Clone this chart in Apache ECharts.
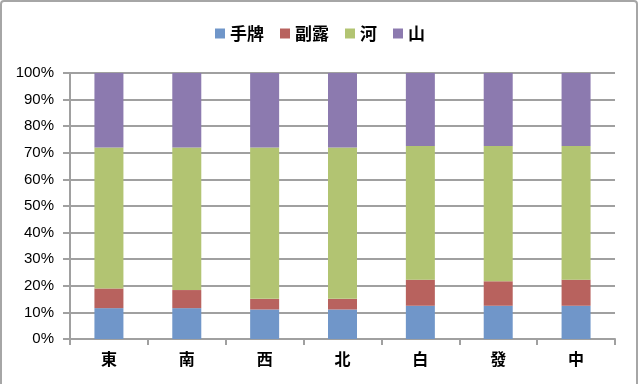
<!DOCTYPE html>
<html>
<head>
<meta charset="utf-8">
<script src="https://cdn.jsdelivr.net/npm/echarts@6/dist/echarts.min.js"></script>
<style>
html,body{margin:0;padding:0;background:#fff;}
#c{width:640px;height:384px;}
</style>
</head>
<body>
<div id="c"></div>
<script>
var categories = ['東','南','西','北','白','發','中'];
var seriesNames = ['手牌','副露','河','山'];
var tehai = [11.6, 11.6, 11.1, 11.1, 12.5, 12.5, 12.5];
var furo  = [7.4, 6.8, 4.0, 4.0, 9.8, 9.2, 9.8];
var kawa  = [53.0, 53.6, 56.9, 56.9, 50.3, 50.9, 50.3];
var yama  = [28.0, 28.0, 28.0, 28.0, 27.4, 27.4, 27.4];
var yTicks = ['0%','10%','20%','30%','40%','50%','60%','70%','80%','90%','100%'];
var colors = ['#7096C9','#B8625E','#B2C472','#8C7AAF'];

var font = '"Noto Sans CJK JP", "Noto Sans", sans-serif';
var chart = echarts.init(document.getElementById('c'));
var dataSets = [tehai, furo, kawa, yama];
chart.setOption({
  animation: false,
  color: colors,
  graphic: [{
    type: 'rect',
    shape: {x: 1, y: 1, width: 636, height: 400, r: 3},
    style: {fill: 'none', stroke: '#a6a6a6', lineWidth: 2},
    silent: true
  }],
  legend: {
    top: 20,
    left: 'center',
    itemWidth: 10,
    itemHeight: 10,
    itemGap: 16,
    icon: 'rect',
    textStyle: {fontFamily: font, fontSize: 17, color: '#000', fontWeight: 'bold'},
    data: seriesNames
  },
  grid: {left: 70, right: 25, top: 73, bottom: 45, containLabel: false},
  xAxis: {
    type: 'category',
    data: categories,
    axisLine: {lineStyle: {color: '#a0a0a0', width: 2}},
    axisTick: {show: true, length: 6, lineStyle: {color: '#a0a0a0', width: 2}},
    axisLabel: {fontFamily: font, fontSize: 16, fontWeight: 'bold', color: '#000', margin: 12}
  },
  yAxis: {
    type: 'value',
    min: 0, max: 100, interval: 10,
    axisLine: {show: true, lineStyle: {color: '#a0a0a0', width: 2}},
    axisTick: {show: true, length: 7, lineStyle: {color: '#a0a0a0', width: 2}},
    splitLine: {lineStyle: {color: '#a0a0a0', width: 2}},
    axisLabel: {
      fontFamily: '"Liberation Sans", Arial, sans-serif', fontSize: 15, color: '#000', margin: 16,
      formatter: function (v) { return yTicks[Math.round(v / 10)]; }
    }
  },
  series: seriesNames.map(function (n, i) {
    return {
      name: n, type: 'bar', stack: 'total', barWidth: 29,
      data: dataSets[i],
      itemStyle: {color: colors[i]}
    };
  })
});
</script>
</body>
</html>
